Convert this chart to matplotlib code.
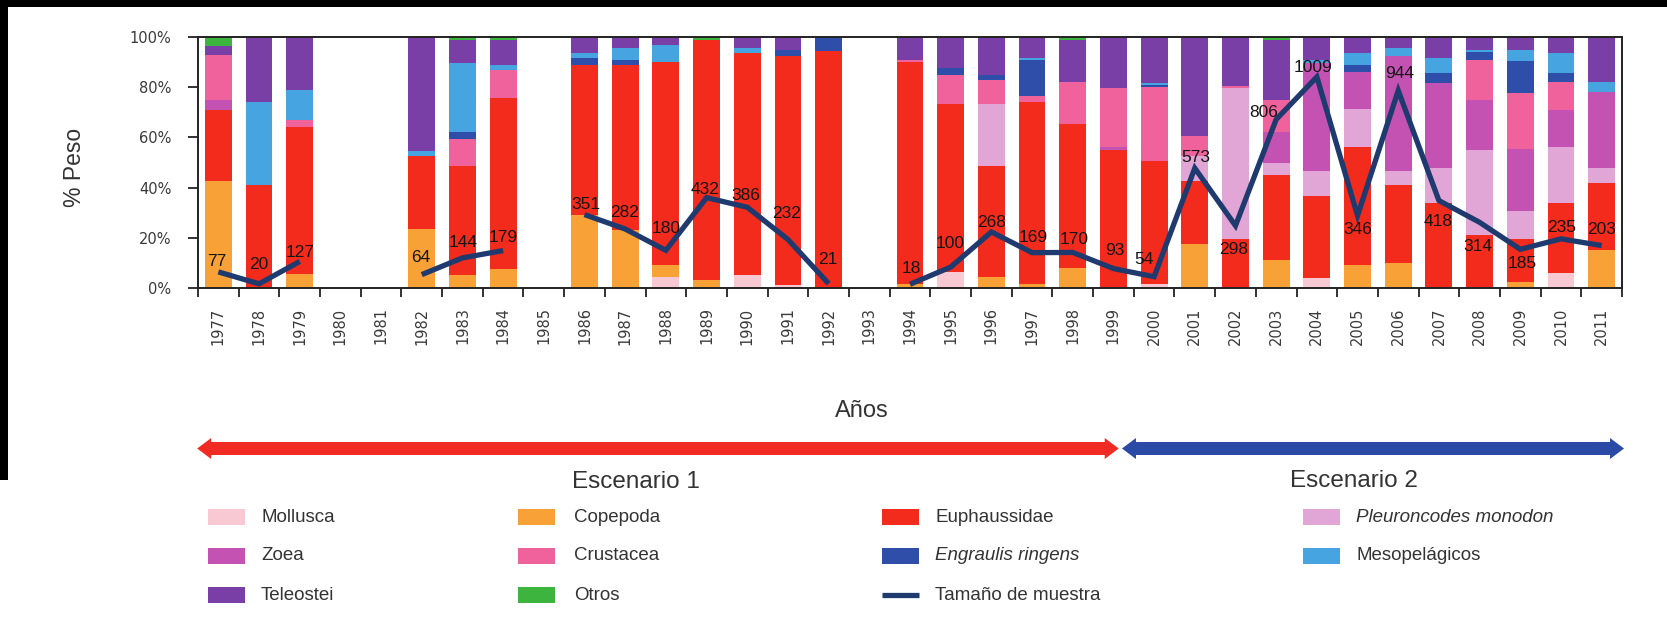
import numpy as np
import matplotlib
matplotlib.use("Agg")
import matplotlib.pyplot as plt
from matplotlib.patches import Rectangle, Polygon
from matplotlib.lines import Line2D
from matplotlib.transforms import blended_transform_factory

# ---------------------------------------------------------------------------
# Data: diet composition (% weight) per year and sample size
# ---------------------------------------------------------------------------
years = list(range(1977, 2012))

mollusca = [0, 0, 0, 0, 0, 0, 0, 0, 0, 0, 0, 4.5, 0, 5, 1, 0, 0, 0, 6.5, 0,
            0, 0, 0, 1.5, 0, 0, 0, 4, 0, 0, 0, 0, 0, 6, 0]
copepoda = [42.5, 0, 5.5, 0, 0, 23.5, 5, 7.5, 0, 29, 23, 4.5, 3, 0, 0, 0, 0,
            1.5, 0, 4.5, 1.5, 8, 0, 0, 17.5, 0, 11, 0, 9, 10, 0, 0, 2.5, 0, 15]
euphausiidae = [28.5, 41, 58.5, 0, 0, 29, 43.5, 68, 0, 60, 66, 81, 96, 88.5,
                91.5, 94.5, 0, 88.5, 67, 44, 72.5, 57.5, 55, 49, 25, 19.5, 34,
                32.5, 47, 31, 34, 21, 17, 28, 27]
pleuroncodes = [0, 0, 0, 0, 0, 0, 0, 0, 0, 0, 0, 0, 0, 0, 0, 0, 0, 0, 0, 25,
                0, 0, 0, 0, 10, 60, 5, 10, 15.5, 5.5, 14, 34, 11, 22, 6]
zoea = [4, 0, 0, 0, 0, 0, 0, 0, 0, 0, 0, 0, 0, 0, 0, 0, 0, 0, 0, 0,
        0, 0, 1, 0, 0, 0, 12, 43, 14.5, 46, 33.5, 20, 25, 15, 30]
crustacea = [18, 0, 3, 0, 0, 0, 11, 11.5, 0, 0, 0, 0, 0, 0, 0, 0, 0, 1, 11.5,
             9.5, 2.5, 16.5, 23.5, 29.5, 8, 1, 13, 0, 0, 0, 0, 16, 22, 11, 0]
engraulis = [0, 0, 0, 0, 0, 0, 2.5, 0, 0, 2.5, 2, 0, 0, 0, 2.5, 5.5, 0, 0,
             2.5, 2, 14.5, 0, 0, 1, 0, 0, 0, 0, 3, 0, 4, 3, 13, 3.5, 0]
mesopelagicos = [0, 33, 12, 0, 0, 2, 27.5, 2, 0, 2, 4.5, 7, 0, 2, 0, 0, 0, 0,
                 0, 0, 0.5, 0, 0, 0.5, 0, 0, 0, 1.5, 4.5, 3, 6, 1, 4.5, 8, 4]
teleostei = [3.5, 26, 21, 0, 0, 45.5, 9.5, 10, 0, 6.5, 4.5, 3, 0, 4.5, 5, 0,
             0, 9, 12.5, 15, 8.5, 17, 20.5, 18.5, 39.5, 19.5, 24, 9, 6.5, 4.5,
             8.5, 5, 5, 6.5, 18]
otros = [3.5, 0, 0, 0, 0, 0, 1, 1, 0, 0, 0, 0, 1, 0, 0, 0, 0, 0, 0, 0,
         0, 1, 0, 0, 0, 0, 1, 0, 0, 0, 0, 0, 0, 0, 0]

nan = float("nan")
sample_size = [77, 20, 127, nan, nan, 64, 144, 179, nan, 351, 282, 180, 432,
               386, 232, 21, nan, 18, 100, 268, 169, 170, 93, 54, 573, 298,
               806, 1009, 346, 944, 418, 314, 185, 235, 203]

scenario_split_year = 1999

# ---------------------------------------------------------------------------
# Styling
# ---------------------------------------------------------------------------
W, H = 1667, 619
SANS = "Liberation Sans"
TICK_FONT = "DejaVu Sans"

series = [
    ("Mollusca", mollusca, "#f8c9d3", False),
    ("Copepoda", copepoda, "#f8a136", False),
    ("Euphaussidae", euphausiidae, "#f22b1c", False),
    ("Pleuroncodes monodon", pleuroncodes, "#e2a6d6", True),
    ("Zoea", zoea, "#c352b2", False),
    ("Crustacea", crustacea, "#f0629c", False),
    ("Engraulis ringens", engraulis, "#2e4eaa", True),
    ("Mesopelágicos", mesopelagicos, "#46a4e0", False),
    ("Teleostei", teleostei, "#7a3fa6", False),
    ("Otros", otros, "#3db43d", False),
]
line_color = "#1f3a6e"

# offsets (pixels) of the sample-size labels relative to their points
label_offsets = [(-2, 10), (0, 19), (0, 9), (-1, 17), (1, 15), (0, 13),
                 (1, 10), (-1, 17), (0, 22), (-2, 8), (-1, 12), (-1, 26),
                 (-1, 24), (1, 16), (-1, 24), (0, 9), (1, 15), (1, 13),
                 (1, 18), (-10, 17), (1, 11), (-2, -24), (-12, 7), (-4, 9),
                 (0, -14), (1, 17), (-1, -21), (-2, -24), (2, -14), (1, 11),
                 (0, 16)]


def fx(px):
    return px / W


def fy(py):
    return 1 - py / H


fig = plt.figure(figsize=(W / 100, H / 100), dpi=100)
fig.patch.set_facecolor("white")

# dark frame along the top and left border
fig.add_artist(Rectangle((0, fy(7)), 1, 1 - fy(7), transform=fig.transFigure,
                         facecolor="black", edgecolor="none", zorder=0))
fig.add_artist(Rectangle((0, fy(480)), fx(8), fy(0) - fy(480),
                         transform=fig.transFigure, facecolor="black",
                         edgecolor="none", zorder=0))

ax = fig.add_axes([fx(198), fy(288), fx(1622) - fx(198), fy(37) - fy(288)])
x = np.arange(len(years))

bottom = np.zeros(len(years))
for name, vals, color, _ in series:
    v = np.asarray(vals, dtype=float)
    ax.bar(x, v, width=0.66, bottom=bottom, color=color, linewidth=0,
           zorder=2)
    bottom += v

ax.set_xlim(-0.5, len(years) - 0.5)
ax.set_ylim(0, 100)
ax.set_yticks(range(0, 101, 20))
ax.set_yticklabels([f"{t}%" for t in range(0, 101, 20)],
                   fontfamily=TICK_FONT, fontsize=10.5, color="#3a3a3a")
ax.set_xticks(x)
ax.set_xticklabels([str(y) for y in years], rotation=90,
                   fontfamily=TICK_FONT, fontsize=10.5, color="#3a3a3a",
                   va="top")
ax.set_xticks(np.arange(-0.5, len(years)), minor=True)
ax.tick_params(axis="x", which="major", length=0, pad=14)
ax.tick_params(axis="x", which="minor", length=6.5, width=1.3,
               direction="out", color="#222222")
ax.tick_params(axis="y", which="major", length=7, width=1.3,
               direction="out", pad=12, color="#222222")
for sp in ax.spines.values():
    sp.set_linewidth(1.4)
    sp.set_color("#222222")

# sample size on a hidden secondary scale
ax2 = ax.twinx()
ax2.set_ylim(0, 1200)
ax2.set_xlim(ax.get_xlim())
ax2.set_axis_off()
ss = np.asarray(sample_size, dtype=float)
ax2.plot(x, ss, color=line_color, lw=3.8, solid_capstyle="butt",
         solid_joinstyle="miter", zorder=3)
valid = [i for i in range(len(years)) if not np.isnan(ss[i])]
for (i, (dx, dy)) in zip(valid, label_offsets):
    ax2.annotate(str(int(ss[i])), (x[i], ss[i]), xytext=(dx, dy),
                 textcoords="offset pixels", ha="center", va="center",
                 fontfamily=SANS, fontsize=12.5, color="#151515", zorder=4)

# axis titles
fig.text(fx(74), fy(167), "% Peso", rotation=90, ha="center", va="center",
         fontfamily=SANS, fontsize=16.5, color="#333333")
fig.text(fx(862), fy(411), "Años", ha="center", va="center",
         fontfamily=SANS, fontsize=17, color="#333333")

# scenario arrows
trans = blended_transform_factory(ax.transData, fig.transFigure)
split = years.index(scenario_split_year)


def double_arrow(x0, x1, color):
    yc = fy(448.5)
    hl = 14 / 40.7
    bh = 6.5 / H
    hh = 10.5 / H
    verts = [(x0, yc), (x0 + hl, yc + hh), (x0 + hl, yc + bh),
             (x1 - hl, yc + bh), (x1 - hl, yc + hh), (x1, yc),
             (x1 - hl, yc - hh), (x1 - hl, yc - bh), (x0 + hl, yc - bh),
             (x0 + hl, yc - hh)]
    fig.add_artist(Polygon(verts, closed=True, transform=trans,
                           facecolor=color, edgecolor="none", clip_on=False))


double_arrow(-0.52, split + 0.13, "#ef2b24")
double_arrow(split + 0.21, len(years) - 0.45, "#2b4aa6")

fig.text(fx(636), fy(482), "Escenario 1", ha="center", va="center",
         fontfamily=SANS, fontsize=17.5, color="#333333")
fig.text(fx(1354), fy(481), "Escenario 2", ha="center", va="center",
         fontfamily=SANS, fontsize=17.5, color="#333333")

# legend laid out in four columns, filled row by row
row_y = [517, 556, 595]
col_swatch = [208, 518, 882, 1303]
col_text = [261, 574, 935, 1356]
entries = [(name, color, italic) for name, _, color, italic in series]
entries.append(("Tamaño de muestra", line_color, None))
for k, (name, color, italic) in enumerate(entries):
    r, c = divmod(k, 4)
    yc = row_y[r]
    if italic is None:
        fig.add_artist(Line2D([fx(col_swatch[c]), fx(col_swatch[c] + 37)],
                              [fy(yc), fy(yc)], transform=fig.transFigure,
                              color=color, lw=3.8, solid_capstyle="butt"))
    else:
        fig.add_artist(Rectangle((fx(col_swatch[c]), fy(yc + 8)), 37 / W,
                                 16 / H, transform=fig.transFigure,
                                 facecolor=color, edgecolor="none"))
    fig.text(fx(col_text[c]), fy(yc), name, ha="left", va="center",
             fontfamily=SANS, fontsize=13.5, color="#333333",
             fontstyle="italic" if italic else "normal")

fig.savefig("out.png", dpi=100, facecolor=fig.get_facecolor())
